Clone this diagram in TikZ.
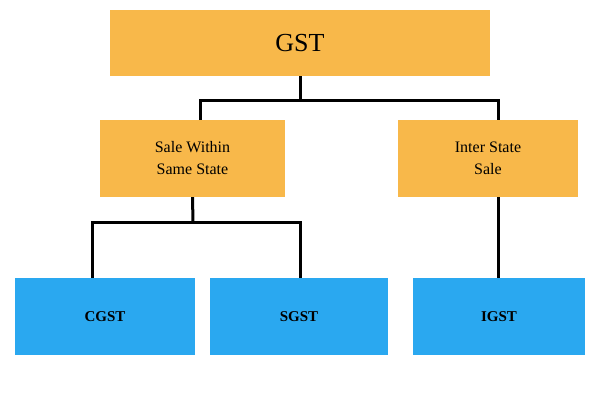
\documentclass[tikz,border=0pt]{standalone}
\usepackage{fontspec}
\setmainfont{Liberation Serif}
\begin{document}
\begin{tikzpicture}[x=1pt,y=-1pt,
  obox/.style={fill=orgc,draw=none,inner sep=0,align=center},
  bbox/.style={fill=bluec,draw=none,inner sep=0,align=center,font=\bfseries\fontsize{15}{18}\selectfont},
  conn/.style={line width=3pt,black}]
\definecolor{orgc}{HTML}{F8B84A}
\definecolor{bluec}{HTML}{2AA8F0}
\useasboundingbox[fill=white] (0,0) rectangle (600,400);
\node[obox,minimum width=380,minimum height=66,font=\fontsize{26}{30}\selectfont] (gst) at (300,43) {GST};
\node[obox,minimum width=185,minimum height=77,font=\fontsize{16}{22}\selectfont] (sw) at (192.5,158.5) {Sale Within\\Same State};
\node[obox,minimum width=180,minimum height=77,font=\fontsize{16}{22}\selectfont] (is) at (488,158.5) {Inter State\\Sale};
\node[bbox,minimum width=180,minimum height=77] (cg) at (105,316.5) {CGST};
\node[bbox,minimum width=178,minimum height=77] (sg) at (299,316.5) {SGST};
\node[bbox,minimum width=172,minimum height=77] (ig) at (499,316.5) {IGST};
\coordinate (j1) at (300,100);
\coordinate (j2) at (193,222);
\draw[conn] (gst.south) -- (j1);
\draw[conn] (sw.north -| 200,0) |- (j1) -| (is.north -| 498,0);
\draw[conn] (sw.south) -- (j2);
\draw[conn] (cg.north -| 92,0) |- (j2) -| (sg.north -| 300,0);
\draw[conn] (is.south -| 498,0) -- (ig.north -| 498,0);
\end{tikzpicture}
\end{document}
